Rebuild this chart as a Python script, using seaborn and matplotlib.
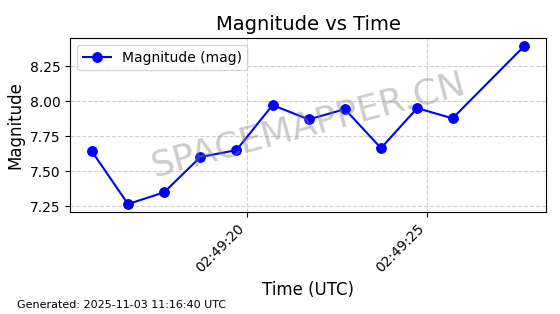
import matplotlib
matplotlib.use("Agg")
import matplotlib.pyplot as plt
import matplotlib.dates as mdates
import seaborn as sns
import pandas as pd

times = ["2025-11-03 02:49:15.72", "2025-11-03 02:49:16.72", "2025-11-03 02:49:17.72",
         "2025-11-03 02:49:18.72", "2025-11-03 02:49:19.72", "2025-11-03 02:49:20.72",
         "2025-11-03 02:49:21.72", "2025-11-03 02:49:22.72", "2025-11-03 02:49:23.72",
         "2025-11-03 02:49:24.72", "2025-11-03 02:49:25.70", "2025-11-03 02:49:27.68"]
magnitudes = [7.643, 7.266, 7.35, 7.602, 7.652, 7.974, 7.871, 7.945, 7.666, 7.952, 7.879, 8.395]
y_ticks = [7.25, 7.50, 7.75, 8.00, 8.25]

df = pd.DataFrame({"time": pd.to_datetime(times), "mag": magnitudes})

fig, ax = plt.subplots(figsize=(5.6, 3.14), dpi=100)
fig.subplots_adjust(left=0.1255, right=0.9745, top=0.878, bottom=0.325)

sns.lineplot(data=df, x="time", y="mag", ax=ax, color="blue", marker="o",
             markersize=7, markeredgecolor="blue", linewidth=1.5,
             label="Magnitude (mag)")

ax.set_title("Magnitude vs Time", fontsize=14)
ax.set_xlabel("Time (UTC)", fontsize=12)
ax.set_ylabel("Magnitude", fontsize=12)
ax.set_yticks(y_ticks)
ax.xaxis.set_major_locator(mdates.SecondLocator(bysecond=range(0, 60, 5)))
ax.xaxis.set_major_formatter(mdates.DateFormatter("%H:%M:%S"))
plt.setp(ax.get_xticklabels(), rotation=45, ha="right")
ax.grid(True, linestyle="--", alpha=0.6)
ax.legend(loc="upper left")

ax.text(0.5, 0.5, "SPACEMAPPER.CN", transform=ax.transAxes, fontsize=26,
        color="gray", alpha=0.4, rotation=15, ha="center", va="center")

fig.text(0.03, 0.02, "Generated: 2025-11-03 11:16:40 UTC", fontsize=8)

fig.savefig("out.png", dpi=100)
